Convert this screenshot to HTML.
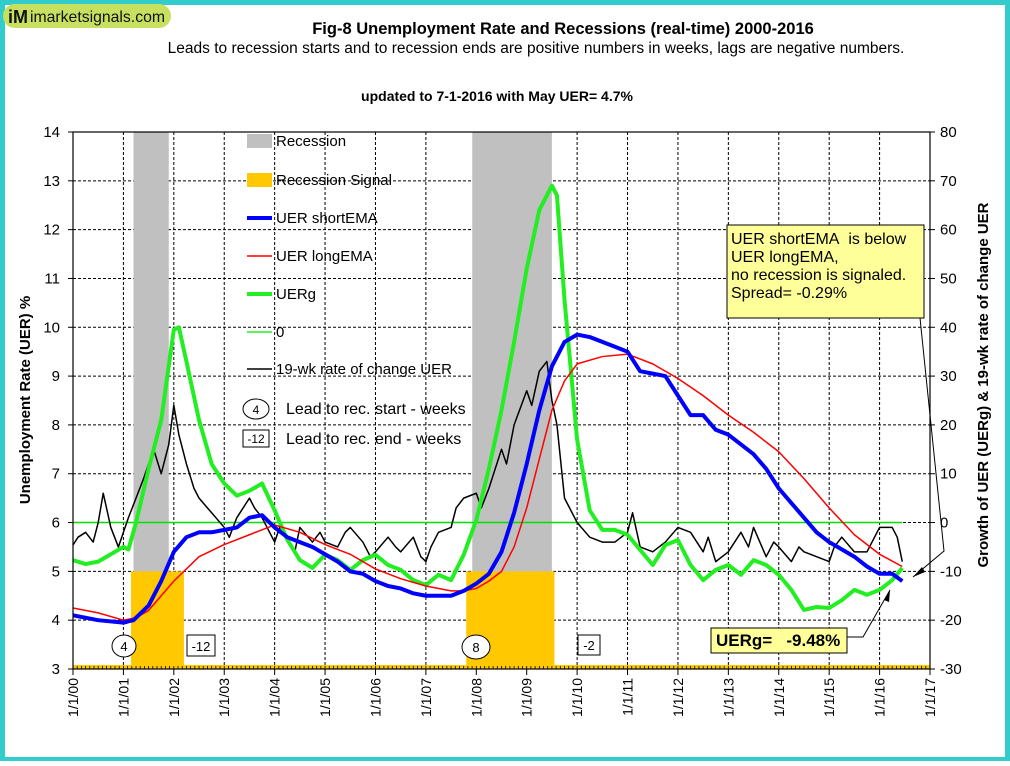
<!DOCTYPE html>
<html><head><meta charset="utf-8"><style>
html,body{margin:0;padding:0;background:#fff}
body{width:1010px;height:761px;overflow:hidden;font-family:"Liberation Sans",sans-serif}
</style></head><body>
<svg id="c" width="1010" height="761" xmlns="http://www.w3.org/2000/svg" font-family="Liberation Sans, sans-serif">
<rect x="0" y="0" width="1010" height="761" fill="#33CCCC"/>
<rect x="5" y="5" width="1000" height="752" fill="#fff"/>
<rect x="3" y="4" width="168" height="24" rx="12" fill="#C8E060"/>
<text x="8" y="23" font-size="18" font-weight="bold" fill="#111">iM</text>
<text x="30" y="22" font-size="16" fill="#111" textLength="135" lengthAdjust="spacingAndGlyphs">imarketsignals.com</text>
<text x="563" y="34" font-size="16.5" font-weight="bold" text-anchor="middle">Fig-8  Unemployment Rate and Recessions (real-time) 2000-2016</text>
<text x="536" y="53" font-size="15.5" text-anchor="middle">Leads to recession starts and to recession ends are positive numbers in weeks, lags are negative numbers.</text>
<text x="497" y="101" font-size="14" font-weight="bold" text-anchor="middle">updated to 7-1-2016 with May UER= 4.7%</text>
<g id="grid"></g><g id="bg"></g><g id="lines"></g><g id="axes"></g><g id="ann"></g>
</svg>
<script>
const recStart=[2001.2,2007.92], recEnd=[2001.9,2009.5];
const sigStart=[2001.15,2007.8], sigEnd=[2002.2,2009.55];
const shortX=[2000,2000.5,2001,2001.2,2001.5,2001.75,2002,2002.25,2002.5,2002.75,2003,2003.25,2003.5,2003.75,2004,2004.25,2004.5,2004.75,2005,2005.25,2005.5,2005.75,2006,2006.25,2006.5,2006.75,2007,2007.25,2007.5,2007.75,2008,2008.25,2008.5,2008.75,2009,2009.25,2009.5,2009.75,2010,2010.25,2010.5,2010.75,2011,2011.25,2011.5,2011.75,2012,2012.25,2012.5,2012.75,2013,2013.25,2013.5,2013.75,2014,2014.25,2014.5,2014.75,2015,2015.25,2015.5,2015.75,2016,2016.25,2016.45];
const shortY=[4.1,4.0,3.95,4.0,4.3,4.8,5.4,5.7,5.8,5.8,5.85,5.9,6.1,6.15,5.9,5.7,5.6,5.5,5.35,5.2,5.0,4.95,4.8,4.7,4.65,4.55,4.5,4.5,4.5,4.6,4.75,4.95,5.4,6.2,7.2,8.3,9.2,9.7,9.85,9.8,9.7,9.6,9.5,9.1,9.05,9.0,8.6,8.2,8.2,7.9,7.8,7.6,7.4,7.1,6.7,6.4,6.1,5.8,5.6,5.45,5.3,5.1,4.95,4.95,4.8];
const longX=[2000,2000.5,2001,2001.25,2001.5,2001.75,2002,2002.5,2003,2003.5,2004,2004.5,2005,2005.5,2006,2006.5,2007,2007.5,2007.75,2008,2008.25,2008.5,2008.75,2009,2009.25,2009.5,2009.75,2010,2010.5,2011,2011.5,2012,2012.5,2013,2013.5,2014,2014.5,2015,2015.5,2016,2016.45];
const longY=[4.25,4.15,4.0,4.05,4.2,4.5,4.8,5.3,5.55,5.75,5.95,5.8,5.55,5.35,5.05,4.85,4.7,4.6,4.6,4.65,4.8,5.0,5.5,6.3,7.3,8.3,8.9,9.25,9.4,9.45,9.25,8.95,8.6,8.2,7.85,7.45,6.9,6.3,5.75,5.35,5.1];
const gX=[2000,2000.25,2000.5,2000.75,2001,2001.1,2001.25,2001.5,2001.75,2002,2002.1,2002.25,2002.5,2002.75,2003,2003.25,2003.5,2003.75,2004,2004.25,2004.5,2004.75,2005,2005.25,2005.5,2005.75,2006,2006.25,2006.5,2006.75,2007,2007.25,2007.5,2007.75,2008,2008.25,2008.5,2008.75,2009,2009.25,2009.5,2009.6,2009.75,2010,2010.25,2010.5,2010.75,2011,2011.25,2011.5,2011.75,2012,2012.25,2012.5,2012.75,2013,2013.25,2013.5,2013.75,2014,2014.25,2014.5,2014.75,2015,2015.25,2015.5,2015.75,2016,2016.25,2016.45];
const gY=[-7.7,-8.5,-8,-6.5,-5,-5.5,0,11,21,39.5,40,33,21,12,8,5.5,6.5,8,2.5,-3.5,-7.7,-9.3,-6.6,-7.7,-9.7,-7.7,-6.6,-8.7,-9.7,-11.8,-12.8,-10.7,-11.8,-6.6,0.5,11,23,37,52,64,69,67,45.6,17,2.5,-1.5,-1.5,-2.5,-5.6,-8.7,-4.6,-3.6,-8.7,-11.8,-9.7,-8.7,-10.7,-7.7,-8.7,-10.7,-13.8,-17.9,-17.3,-17.5,-15.9,-13.8,-14.8,-13.8,-11.8,-9.3];
const rocX=[2000,2000.1,2000.25,2000.4,2000.5,2000.6,2000.75,2000.9,2001,2001.1,2001.25,2001.4,2001.5,2001.6,2001.75,2001.9,2002,2002.1,2002.25,2002.4,2002.5,2002.75,2003,2003.1,2003.25,2003.5,2003.6,2003.75,2004,2004.1,2004.25,2004.4,2004.5,2004.75,2004.9,2005,2005.25,2005.4,2005.5,2005.75,2005.9,2006,2006.25,2006.4,2006.5,2006.75,2006.9,2007,2007.1,2007.25,2007.5,2007.6,2007.75,2008,2008.1,2008.25,2008.5,2008.6,2008.75,2009,2009.1,2009.25,2009.4,2009.5,2009.6,2009.75,2010,2010.25,2010.5,2010.75,2011,2011.1,2011.25,2011.5,2011.75,2012,2012.25,2012.5,2012.6,2012.75,2013,2013.25,2013.4,2013.5,2013.75,2013.9,2014,2014.25,2014.4,2014.5,2014.75,2015,2015.1,2015.25,2015.5,2015.75,2016,2016.25,2016.35,2016.45];
const rocY=[-4.6,-3,-2,-4,0,6,-1,-5,-2,1,5,9,12,15,10,16,24,18,12,7,5,2,-1,-3,1,5,3,1,-4,-1,-3,-6,-1,-4,-2,-4,-5,-2,-1,-4,-7,-6,-3,-5,-6,-3,-7,-8,-5,-2,-1,3,5,6,3,7,15,12,20,27,24,31,33,25,20,5,0,-3,-4,-4,-2,2,-5,-6,-4,-1,-2,-6,-3,-8,-6,-2,-5,-1,-7,-4,-5,-8,-5,-6,-7,-8,-5,-3,-6,-6,-1,-1,-3,-8];
const leftTicks=[3,4,5,6,7,8,9,10,11,12,13,14];
const rightTicks=[-30,-20,-10,0,10,20,30,40,50,60,70,80];
const yearTicks=[2000,2001,2002,2003,2004,2005,2006,2007,2008,2009,2010,2011,2012,2013,2014,2015,2016,2017];

const X0=73,X1=930,Y0=132,Y1=669;
const xs=t=>X0+(t-2000)/17*(X1-X0);
const yl=v=>Y1-(v-3)/11*(Y1-Y0);
const yr=v=>Y1-(v+30)/110*(Y1-Y0);
const NS="http://www.w3.org/2000/svg";
function mk(p,tag,a){const e=document.createElementNS(NS,tag);for(const k in a)e.setAttribute(k,a[k]);document.getElementById(p).appendChild(e);return e;}

for(let i=0;i<recStart.length;i++){
 const r=mk('bg','rect',{x:xs(recStart[i]),y:Y0,width:xs(recEnd[i])-xs(recStart[i]),height:Y1-Y0,fill:'#C0C0C0'});
 
 
}
for(let i=0;i<sigStart.length;i++){
 const r=mk('bg','rect',{x:xs(sigStart[i]),y:yl(5),width:xs(sigEnd[i])-xs(sigStart[i]),height:Y1-yl(5),fill:'#FFC800'});
 
 
}
mk('bg','rect',{x:X0,y:Y1-4,width:X1-X0,height:4,fill:'#FFC800'});
leftTicks.forEach(v=>{
 const l=mk('grid','line',{x1:X0,x2:X1,y1:yl(v),y2:yl(v),stroke:'#000','stroke-width':1,'stroke-dasharray':'3,2'});
 
 
 const t=mk('axes','text',{x:60,y:yl(v)+5,'font-size':15,'text-anchor':'end'});t.textContent=v;
 
 
 mk('axes','line',{x1:X0-5,x2:X0,y1:yl(v),y2:yl(v),stroke:'#000'});
});
rightTicks.forEach(v=>{
 const t=mk('axes','text',{x:940,y:yr(v)+5,'font-size':15});t.textContent=v;
 
 
 mk('axes','line',{x1:X1,x2:X1+5,y1:yr(v),y2:yr(v),stroke:'#000'});
});
yearTicks.forEach(y=>{
 const x=xs(y);
 if(y>2000&&y<2017){const l=mk('grid','line',{x1:x,x2:x,y1:Y0,y2:Y1,stroke:'#000','stroke-dasharray':'3,2'});
 
 }
 mk('axes','line',{x1:x,x2:x,y1:Y1,y2:Y1+6,stroke:'#000'});
 const t=mk('axes','text',{x:0,y:0,'font-size':14,'text-anchor':'end',transform:`translate(${x+5},${Y1+9}) rotate(-90)`});
 t.textContent='1/1/'+String(y%100).padStart(2,'0');
 
 
});
for(let m=0;m<=17*12;m++){mk('axes','line',{x1:xs(2000+m/12),x2:xs(2000+m/12),y1:Y1-3,y2:Y1,stroke:'#000','stroke-width':0.8});}
function poly(xa,ya,f,col,w,name){
 const p=mk('lines','polyline',{points:xa.map((t,i)=>xs(t)+','+f(ya[i])).join(' '),fill:'none',stroke:col,'stroke-width':w,'stroke-linejoin':'round'});
 
 
}
const z=mk('lines','line',{x1:X0,x2:xs(2016.45),y1:yr(0),y2:yr(0),stroke:'#00E000','stroke-width':1.5});


poly(rocX,rocY,yr,'#000',1.5,'roc-19wk-line');
poly(gX,gY,yr,'#22EE22',4,'uerg-line');
poly(longX,longY,yl,'#FF0000',1.5,'uer-longema-line');
poly(shortX,shortY,yl,'#0000FF',4,'uer-shortema-line');
mk('axes','rect',{x:X0,y:Y0,width:X1-X0,height:Y1-Y0,fill:'none',stroke:'#000','stroke-width':1.2});
</script>
<svg width="1010" height="761" style="position:absolute;left:0;top:0" font-family="Liberation Sans, sans-serif">
<text transform="translate(30,400) rotate(-90)" font-size="15" font-weight="bold" text-anchor="middle">Unemployment Rate (UER) %</text>
<text transform="translate(988,385) rotate(-90)" font-size="15" font-weight="bold" text-anchor="middle">Growth of UER (UERg) &amp; 19-wk rate of change UER</text>
<g font-size="15">
<rect x="247" y="134" width="25" height="14" fill="#C0C0C0"/><text x="276" y="146">Recession</text>
<rect x="247" y="173" width="25" height="14" fill="#FFC800"/><text x="276" y="185">Recession Signal</text>
<line x1="247" y1="218" x2="272" y2="218" stroke="#00f" stroke-width="4"/><text x="276" y="223">UER shortEMA</text>
<line x1="247" y1="256" x2="272" y2="256" stroke="#f00" stroke-width="1.5"/><text x="276" y="261">UER longEMA</text>
<line x1="247" y1="294" x2="272" y2="294" stroke="#22EE22" stroke-width="4"/><text x="276" y="299">UERg</text>
<line x1="247" y1="332" x2="272" y2="332" stroke="#22EE22" stroke-width="1.5"/><text x="276" y="337">0</text>
<line x1="247" y1="369" x2="272" y2="369" stroke="#000" stroke-width="1.5"/><text x="276" y="374">19-wk rate of change UER</text>
<ellipse cx="256" cy="409" rx="13" ry="10" fill="#fff" stroke="#000"/><text x="256" y="414" text-anchor="middle" font-size="12">4</text><text x="286" y="414" font-size="16">Lead to rec. start - weeks</text>
<rect x="243" y="430" width="26" height="17" fill="#fff" stroke="#000"/><text x="256" y="443" text-anchor="middle" font-size="12">-12</text><text x="286" y="444" font-size="16">Lead to rec. end - weeks</text>
</g>
<g font-size="13">
<ellipse cx="124" cy="646" rx="12" ry="11" fill="#fff" stroke="#000"/><text x="124" y="651" text-anchor="middle">4</text>
<rect x="187" y="635" width="28" height="21" fill="#fff" stroke="#000"/><text x="201" y="651" text-anchor="middle">-12</text>
<ellipse cx="476" cy="647" rx="14" ry="12" fill="#fff" stroke="#000"/><text x="476" y="652" text-anchor="middle">8</text>
<rect x="578" y="635" width="22" height="20" fill="#fff" stroke="#000"/><text x="589" y="650" text-anchor="middle">-2</text>
</g>
<g>
<rect x="727" y="225" width="197" height="93" fill="#FFFF99" stroke="#000"/>
<text x="731" y="244" font-size="16">UER shortEMA&#160; is below</text>
<text x="731" y="262" font-size="16">UER longEMA,</text>
<text x="731" y="280" font-size="16">no recession is signaled.</text>
<text x="731" y="298" font-size="16">Spread= -0.29%</text>
<polyline points="920,318 944,551 913,577" fill="none" stroke="#000"/>
<polygon points="913,577 922,567 925,572" fill="#000"/>
</g>
<g>
<rect x="711" y="628" width="136" height="25" fill="#FFFF99" stroke="#000"/>
<text x="716" y="646" font-size="17" font-weight="bold">UERg=&#160;&#160; -9.48%</text>
<polyline points="847,637 863,637 890,590" fill="none" stroke="#000"/>
<polygon points="890,590 884,600 889,602" fill="#000"/>
</g>
</svg>
</body></html>
